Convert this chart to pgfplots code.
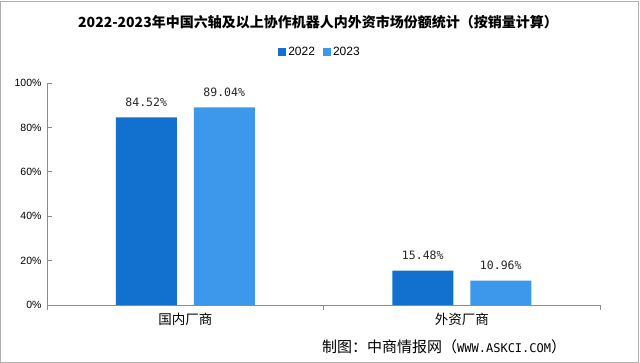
\documentclass[border=0pt]{standalone}
\usepackage{fontspec}
\setmainfont{Noto Sans CJK SC}
\newfontfamily\tickfont{Liberation Sans}
\newfontfamily\monofont{DejaVu Sans Mono}
\usepackage{pgfplots}
\pgfplotsset{compat=1.18}
\definecolor{cA}{RGB}{18,113,206}
\definecolor{cB}{RGB}{61,152,236}
\definecolor{axgray}{RGB}{140,140,140}
\begin{document}
\begin{tikzpicture}
\useasboundingbox (0,0) rectangle (640pt,363pt);
\draw[color=axgray!70, line width=0.8pt] (0.8pt,0.8pt) rectangle (638.5pt,362pt);
\node[font=\bfseries\fontsize{14}{16}\selectfont] at (318pt,341pt) {2022-2023年中国六轴及以上协作机器人内外资市场份额统计（按销量计算）};
\node[anchor=west, font=\fontsize{15}{17}\selectfont, inner sep=0pt] at (322pt,16pt) {制图：中商情报网（{\monofont\fontsize{12}{15}\selectfont WWW.ASKCI.COM}）};
\begin{axis}[
  at={(47pt,58pt)}, anchor=south west,
  scale only axis, width=553pt, height=222pt,
  xmin=0, xmax=2, ymin=0, ymax=100,
  axis x line*=bottom, axis y line*=left,
  axis line style={color=axgray, line width=0.7pt},
  tick align=inside, major tick length=5pt,
  tick style={color=axgray, line width=0.7pt},
  xtick={0,1,2}, xticklabels={},
  extra x ticks={0.5,1.5},
  extra x tick labels={国内厂商,外资厂商},
  extra x tick style={major tick length=0pt, tick label style={font=\fontsize{13.5}{15}\selectfont, yshift=-5pt}},
  ytick={0,20,40,60,80,100},
  yticklabel={\pgfmathprintnumber{\tick}\%},
  /pgf/number format/assume math mode=true,
  yticklabel style={font=\tickfont\fontsize{10.5}{12}\selectfont, xshift=-2pt},
  ybar, bar width=61pt,
  nodes near coords={\pgfmathprintnumber[fixed,precision=2,fixed zerofill]{\pgfplotspointmeta}\%},
  nodes near coords style={font=\monofont\fontsize{11.5}{13}\selectfont, yshift=7pt, text=black!85},
  legend style={at={(0.4937,1.1396)}, anchor=center, legend columns=2, draw=none, fill=none,
    font=\tickfont\fontsize{12}{14}\selectfont,
    /tikz/every even column/.style={column sep=6pt}},
  legend image code/.code={\fill[#1] (0pt,-4pt) rectangle (8pt,4pt);},
  clip=false,
]
\addplot[fill=cA, draw=none, bar shift=-39pt] coordinates {(0.5,84.52) (1.5,15.48)};
\addlegendentry{2022}
\addplot[fill=cB, draw=none, bar shift=39pt] coordinates {(0.5,89.04) (1.5,10.96)};
\addlegendentry{2023}
\end{axis}
\end{tikzpicture}
\end{document}
